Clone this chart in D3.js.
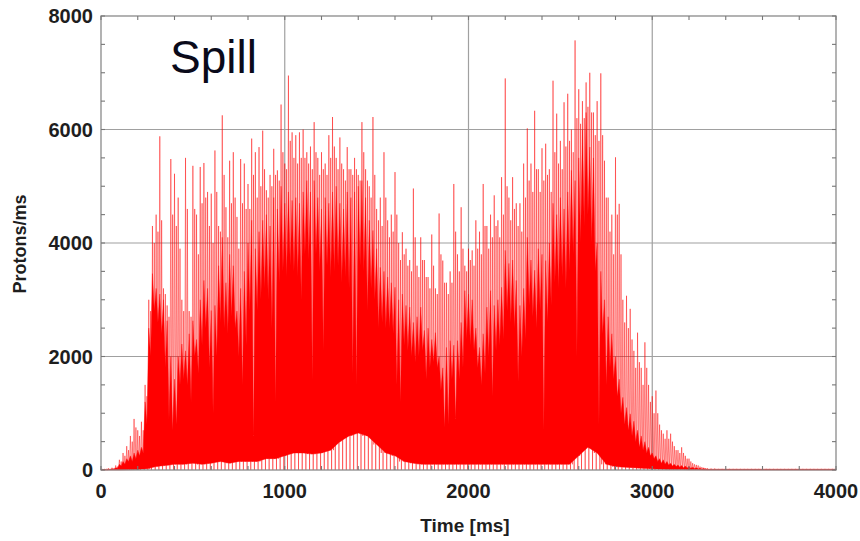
<!DOCTYPE html>
<html>
<head>
<meta charset="utf-8">
<script src="https://cdn.jsdelivr.net/npm/d3@7"></script>
<style>
  html, body { margin: 0; padding: 0; background: #fff; }
  svg { display: block; }
  text { font-family: "Liberation Sans", Arial, sans-serif; }
</style>
</head>
<body>
<svg id="chart" width="860" height="541"></svg>
<script>
// ---- data ----
const sampleStepMs = 20;      // spike / body sampling step
const floorStepMs = 50;       // floor sampling step

// tallest spike in each 20 ms bin (protons/ms), t = 0 .. 4000
const peakValues = [
  20,20,30,40,80,
  180,300,420,600,900,700,850,1500,3000,4300,
  4500,5880,3200,2900,5480,5220,4800,3000,5500,2800,
  5360,4500,5340,5410,4900,4870,5630,4300,6250,4630,
  5450,5600,4460,5480,5400,5040,5840,5600,5690,5980,
  4930,5200,5660,5280,6440,5400,6950,5950,5900,5950,
  6000,5600,5700,6130,5500,5600,5400,5900,6220,5500,
  5860,5300,5690,5300,5500,5200,6130,5300,5000,6220,
  4600,4800,5600,4400,4500,5250,4000,4190,3900,3700,
  4960,3600,4100,3700,3400,4150,3200,4520,3690,3300,
  3500,5040,3800,4630,3600,3900,3870,4400,4200,5040,
  4300,4500,4840,4400,5160,6900,4800,5160,4700,4700,
  5400,6020,5400,6330,5300,5670,5750,5300,6860,6280,
  5800,6480,6630,6000,7570,6710,6500,6830,7000,6300,
  6500,6990,5450,4800,4500,5510,4690,3000,3070,2840,
  2100,2420,1800,2250,1500,1300,1400,800,640,700,
  640,420,350,400,250,200,120,90,60,40,
  30,25,25,20,20,20,20,20,20,20,20,20,20,20,20,20,20,20,
  20,20,20,20,20,20,20,20,20,20,20,20,20,20,20,20,20,20
];

// secondary spike in each bin (10 ms after the tallest one)
const midValues = [
  15,15,20,30,60,
  150,250,350,500,750,600,700,1300,2800,4000,
  4200,4400,3100,2700,4500,4300,3900,2800,4600,2700,
  4600,3800,4700,4800,4300,4000,4900,4200,5200,4100,
  4700,4800,3900,4700,4600,4600,5200,4800,5000,5300,
  4800,5000,5200,5100,5600,5300,5800,5500,5400,5500,
  5500,5400,5300,5600,5200,5300,5200,5500,5700,5300,
  5400,5100,5300,5200,5300,5100,5600,5100,4800,5200,
  4400,4300,4800,4100,4200,4500,3700,3800,3600,3500,
  4100,3400,3700,3400,3200,3600,3100,3800,3300,3100,
  3300,4200,3500,3900,3500,3700,3600,3900,3800,4300,
  3900,4100,4300,4100,4500,5000,4400,4600,4300,4200,
  4800,5100,4900,5300,4900,5100,5200,4900,5600,5400,
  5300,5700,5800,5600,6200,6100,6200,6400,6300,5900,
  5800,5900,4800,4200,3800,4500,3800,2600,2500,2300,
  1800,1900,1500,1800,1200,1000,1000,700,550,550,
  500,350,300,300,200,150,100,80,50,35,
  20,20,20,20,20,20,20,20,20,20,20,20,20,20,20,20,20,20,
  20,20,20,20,20,20,20,20,20,20,20,20,20,20,20,20,20,20
];

// top of the dense (solid) part of the signal in each 20 ms bin
const bodyValues = [
  10,10,15,20,40,
  100,150,200,250,300,350,400,1200,2500,3460,
  3200,3100,3000,2630,2000,1600,2000,2220,2100,2400,
  2630,2300,3000,3340,3200,2810,2900,3600,4100,3300,
  3800,3600,2800,3200,3500,4000,4400,3900,4200,4400,
  4500,4300,4800,4600,5000,4700,4900,4750,4800,4700,
  4900,5100,4900,5100,4800,4600,4800,4700,4900,5000,
  4700,4600,4900,4800,4900,5000,5100,4800,4400,4220,
  3900,3570,3500,3400,3300,3220,3000,3100,2900,2870,
  2600,2700,2870,2460,2500,2300,2420,2000,1800,2160,
  2280,2200,2280,2600,3160,3100,3000,2500,2160,2400,
  2870,3160,2900,3000,3220,3870,3640,3700,3340,2900,
  3200,4100,3700,3520,3900,3800,3690,4000,4700,4500,
  4800,4600,4900,5280,5100,5500,6000,6300,5690,5500,
  4000,3500,3000,2700,2400,2000,1600,1280,1100,990,
  860,700,600,500,400,300,250,200,180,150,
  120,100,90,80,70,60,50,40,30,25,
  15,15,15,15,15,15,15,15,15,15,15,15,15,15,15,15,15,15,
  15,15,15,15,15,15,15,15,15,15,15,15,15,15,15,15,15,15
];

// dips of the dense part (10 ms after each body sample)
const troughValues = [
  5,5,10,15,30,
  70,100,150,150,200,250,300,800,2000,2800,
  2600,2400,1800,900,700,800,1500,1600,1500,1200,
  2000,1700,2200,2500,1800,1000,2000,2600,2500,2400,
  2700,2500,2000,1500,2200,2800,600,2800,3000,3200,
  3000,2500,1200,3300,3500,3400,3600,3500,3400,3000,
  3800,3700,1600,3800,3500,2100,3600,3400,3500,3600,
  3300,3400,3200,1700,1500,3600,3500,2800,3200,3000,
  2500,2600,2500,2500,2400,1500,1200,2200,2100,2000,
  1900,2000,2100,1600,1800,1900,1800,1400,750,800,
  1600,900,1600,1800,2300,2200,2100,1800,1500,1700,
  2000,1300,2100,2200,2300,2800,2600,2500,1560,2000,
  2300,2900,2700,2500,2800,700,2600,2900,3300,3200,
  3400,3200,3500,3800,2000,4000,4300,4500,4000,3500,
  800,2400,1500,1800,1600,1300,1000,800,700,600,
  500,400,350,300,250,200,150,120,100,90,
  70,60,50,40,35,30,25,20,15,12,
  10,10,10,10,10,10,10,10,10,10,10,10,10,10,10,10,10,10,
  10,10,10,10,10,10,10,10,10,10,10,10,10,10,10,10,10,10
];

// lower edge of the dense part, every 50 ms
const floorValues = [
  0,0,0,5,10,
  20,60,80,100,100,120,100,120,150,120,150,150,150,200,200,
  250,300,300,280,300,
  350,500,600,650,600,450,300,
  250,150,120,100,
  100,100,100,100,100,100,100,100,100,100,100,100,100,100,100,100,
  250,400,300,100,
  60,50,40,30,20,
  15,10,10,5,5,0,0,0,0,0,0,0,0,0,0,0,0,0,0,0
];

const xMajorTicks = [0, 1000, 2000, 3000, 4000];
const yMajorTicks = [0, 2000, 4000, 6000, 8000];
const xMinorStep = 200;
const yMinorStep = 500;
const chartTitle = "Spill";
const xTitle = "Time [ms]";
const yTitle = "Protons/ms";

[peakValues, midValues, bodyValues, troughValues].forEach((a, k) => {
  if (a.length !== 201) throw new Error("array " + k + " has length " + a.length);
});
if (floorValues.length !== 81) throw new Error("floor length " + floorValues.length);

// ---- drawing ----
(function draw() {
  const svg = d3.select("#chart");
  const plot = { left: 101, right: 836, top: 16, bottom: 470 };
  const x = d3.scaleLinear().domain([0, 4000]).range([plot.left, plot.right]);
  const y = d3.scaleLinear().domain([0, 8000]).range([plot.bottom, plot.top]);

  const floorAt = t => floorValues[Math.min(floorValues.length - 1, Math.round(t / floorStepMs))];
  const h = sampleStepMs / 2;
  const q = sampleStepMs / 4;
  const line = d3.line().x(d => x(d[0])).y(d => y(d[1]));

  // grid (behind data)
  const grid = svg.append("g").attr("stroke", "#a0a0a0").attr("stroke-width", 1.2);
  grid.selectAll("line.gx").data(xMajorTicks.slice(1, -1)).join("line")
    .attr("x1", d => x(d)).attr("x2", d => x(d))
    .attr("y1", plot.top).attr("y2", plot.bottom);
  grid.selectAll("line.gy").data(yMajorTicks.slice(1, -1)).join("line")
    .attr("x1", plot.left).attr("x2", plot.right)
    .attr("y1", d => y(d)).attr("y2", d => y(d));

  // spikes: zig-zag  peak -> floor -> secondary spike -> zero
  const zig = [];
  peakValues.forEach((v, i) => {
    const t = i * sampleStepMs;
    zig.push([t, v]);
    zig.push([t + q, floorAt(t + q)]);
    zig.push([t + h, midValues[i]]);
    zig.push([t + 3 * q, 0]);
  });
  svg.append("path")
    .attr("d", line(zig.filter(d => d[0] <= 4000)))
    .attr("fill", "none")
    .attr("stroke", "rgba(255,0,0,0.45)")
    .attr("stroke-width", 1);

  // dense body: serrated top edge (body / trough) forward, floor backward
  const topEdge = [];
  bodyValues.forEach((v, i) => {
    const t = i * sampleStepMs;
    topEdge.push([t, v]);
    if (t + h <= 4000) topEdge.push([t + h, troughValues[i]]);
  });
  const bottomEdge = floorValues.map((v, i) => [i * floorStepMs, v]).reverse();
  svg.append("path")
    .attr("d", line(topEdge.concat(bottomEdge)) + "Z")
    .attr("fill", "#ff0000")
    .attr("stroke", "#ff0000")
    .attr("stroke-width", 0.4);

  // frame
  svg.append("rect")
    .attr("x", plot.left).attr("y", plot.top)
    .attr("width", plot.right - plot.left).attr("height", plot.bottom - plot.top)
    .attr("fill", "none").attr("stroke", "#8a8a8a").attr("stroke-width", 1.3);

  // minor ticks (inside, all four sides)
  const ticks = svg.append("g").attr("stroke", "#777").attr("stroke-width", 1.1);
  const xMinor = d3.range(0, 4001, xMinorStep);
  const yMinor = d3.range(0, 8001, yMinorStep);
  ticks.selectAll("line.xb").data(xMinor).join("line")
    .attr("x1", d => x(d)).attr("x2", d => x(d)).attr("y1", plot.bottom).attr("y2", plot.bottom - 4);
  ticks.selectAll("line.xt").data(xMinor).join("line")
    .attr("x1", d => x(d)).attr("x2", d => x(d)).attr("y1", plot.top).attr("y2", plot.top + 4);
  ticks.selectAll("line.yl").data(yMinor).join("line")
    .attr("x1", plot.left).attr("x2", plot.left + 4).attr("y1", d => y(d)).attr("y2", d => y(d));
  ticks.selectAll("line.yr").data(yMinor).join("line")
    .attr("x1", plot.right).attr("x2", plot.right - 4).attr("y1", d => y(d)).attr("y2", d => y(d));

  // tick labels
  svg.append("g").selectAll("text").data(xMajorTicks).join("text")
    .attr("x", d => x(d)).attr("y", 498)
    .attr("text-anchor", "middle")
    .attr("font-size", 20).attr("font-weight", "bold").attr("fill", "#1e1e1e")
    .text(d => d);
  svg.append("g").selectAll("text").data(yMajorTicks).join("text")
    .attr("x", 93).attr("y", d => y(d) + 7)
    .attr("text-anchor", "end")
    .attr("font-size", 20).attr("font-weight", "bold").attr("fill", "#1e1e1e")
    .text(d => d);

  // axis titles
  svg.append("text")
    .attr("x", 465).attr("y", 532)
    .attr("text-anchor", "middle")
    .attr("font-size", 19).attr("font-weight", "bold").attr("fill", "#1e1e1e")
    .text(xTitle);
  svg.append("text")
    .attr("transform", `translate(26,244) rotate(-90)`)
    .attr("text-anchor", "middle")
    .attr("font-size", 18).attr("font-weight", "bold").attr("fill", "#1e1e1e")
    .text(yTitle);

  // in-plot title
  svg.append("text")
    .attr("x", 170).attr("y", 73)
    .attr("font-size", 46).attr("fill", "#0a0a1a")
    .text(chartTitle);
})();
</script>
</body>
</html>
